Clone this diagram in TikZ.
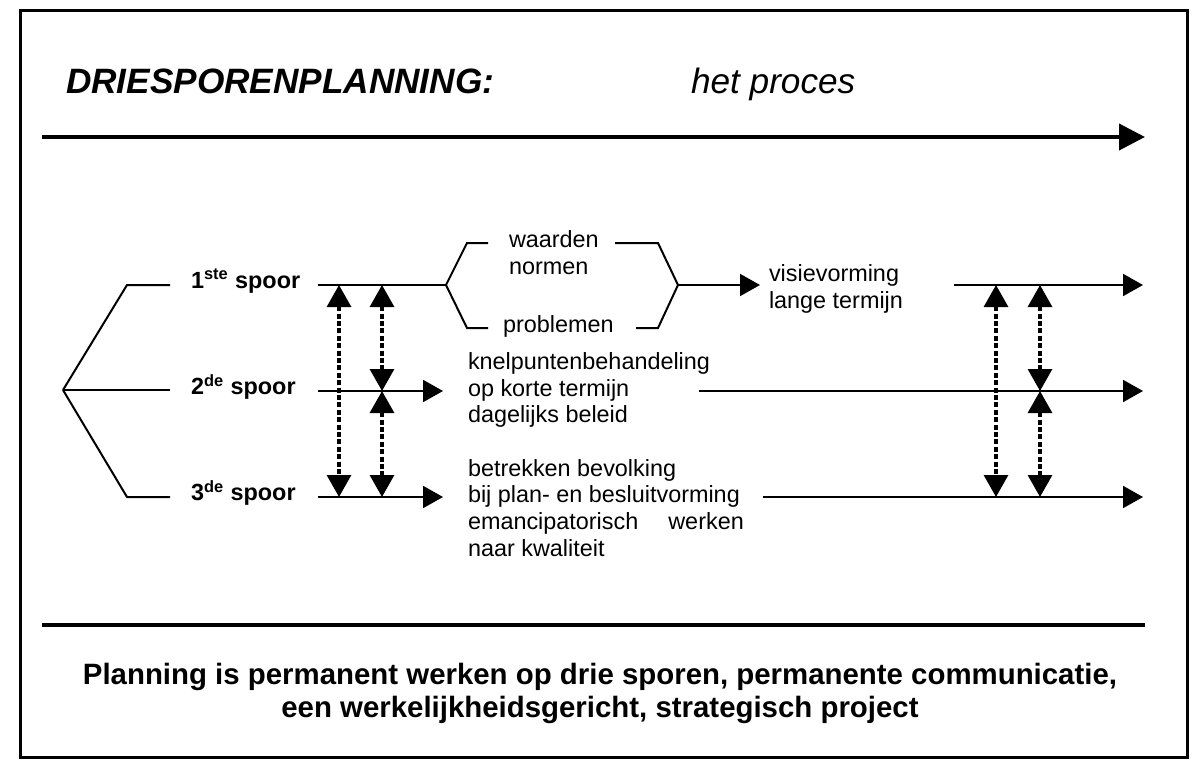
\documentclass[tikz,border=0pt]{standalone}
\usepackage{fontspec}
\setmainfont{Liberation Sans}
\usetikzlibrary{arrows.meta,positioning}

\begin{document}
\begin{tikzpicture}[x=0.5pt,y=-0.5pt,line width=1pt,
  flow/.style={-{Triangle[length=10pt,width=11pt]}},
  link/.style={{Triangle[length=11pt,width=12pt]}-{Triangle[length=11pt,width=12pt]},
    line width=1.6pt,dash pattern=on 2.5pt off 1.2pt},
  spoor node/.style={font=\bfseries\fontsize{11.7}{14}\selectfont,inner sep=0pt,anchor=west},
  text node/.style={font=\fontsize{11.7}{13.4}\selectfont,inner sep=0pt,anchor=west,align=left}]

  \useasboundingbox (0,0) rectangle (1201,760);
  \draw[line width=1.5pt] (20,10) rectangle (1187,757);

  % heading and process arrow
  \node[font=\bfseries\itshape\fontsize{17.6}{20}\selectfont,inner sep=0pt,anchor=base west] (title) at (65,93) {DRIESPORENPLANNING:};
  \node[font=\itshape\fontsize{17.6}{20}\selectfont,inner sep=0pt,anchor=base west] (proces) at (690,93) {het proces};
  \coordinate (p0) at (42,137);
  \coordinate (p1) at (1145,137);
  \draw[line width=2pt,-{Triangle[length=13pt,width=13pt]}] (p0) -- (p1);

  % the three tracks
  \coordinate (root) at (63,390);
  \coordinate (k1) at (127,285);
  \coordinate (k3) at (127,497);
  \node[spoor node] (s1) at (190,281) {1\textsuperscript{ste} spoor};
  \node[spoor node] (s2) at (190,387) {2\textsuperscript{de} spoor};
  \node[spoor node] (s3) at (190,493) {3\textsuperscript{de} spoor};
  \draw[shorten >=10pt] (root) -- (k1) -- (k1 -| s1.west);
  \draw[shorten >=10pt] (root) -- (root -| s2.west);
  \draw[shorten >=10pt] (root) -- (k3) -- (k3 -| s3.west);

  \coordinate (a1) at (318,285);
  \coordinate (a2) at (318,391);
  \coordinate (a3) at (318,497);

  % track 1: values, norms, problems
  \coordinate (bl) at (446,285);
  \coordinate (br) at (678,285);
  \node[text node] (waarden) at (508,253) {waarden\\normen};
  \node[text node] (problemen) at (502,326) {problemen};
  \draw (a1) -- (bl);
  \draw (488,243) -- (467,243) -- (bl) -- (467,328) -- (488,328);
  \draw (615,243) -- (658,243) -- (br) -- (658,328) -- (636,328);
  \node[text node] (vis) at (768,289) {visievorming\\lange termijn};
  \draw[flow,shorten >=4pt] (br) -- (vis.west |- br);

  % track 2 and 3
  \node[text node] (knel) at (467,390) {knelpuntenbehandeling\\op korte termijn\\dagelijks beleid};
  \node[text node] (betr) at (467,508) {betrekken bevolking\\bij plan- en besluitvorming\\emancipatorisch\hspace{15pt}werken\\naar kwaliteit};
  \coordinate (t2) at (443,391);
  \coordinate (t3) at (443,497);
  \draw[flow] (a2) -- (t2);
  \draw[flow] (a3) -- (t3);

  \coordinate (e1) at (1143,285);
  \coordinate (e2) at (1143,391);
  \coordinate (e3) at (1143,497);
  \coordinate (b1) at (954,285);
  \coordinate (b2) at (699,391);
  \coordinate (b3) at (763,497);
  \draw[flow] (b1) -- (e1);
  \draw[flow] (b2) -- (e2);
  \draw[flow] (b3) -- (e3);

  % communication between the tracks
  \coordinate (d1) at (339,0);
  \coordinate (d2) at (382,0);
  \coordinate (d3) at (996,0);
  \coordinate (d4) at (1040,0);
  \draw[link] (d1 |- a1) -- (d1 |- a3);
  \draw[link] (d2 |- a1) -- (d2 |- a2);
  \draw[link] (d2 |- a2) -- (d2 |- a3);
  \draw[link] (d3 |- e1) -- (d3 |- e3);
  \draw[link] (d4 |- e1) -- (d4 |- e2);
  \draw[link] (d4 |- e2) -- (d4 |- e3);

  % conclusion
  \coordinate (r0) at (42,625);
  \coordinate (r1) at (1145,625);
  \draw[line width=2pt] (r0) -- (r1);
  \node[font=\bfseries\fontsize{14.7}{16.5}\selectfont,inner sep=0pt,align=center] (concl) at (600,693)
    {Planning is permanent werken op drie sporen, permanente communicatie,\\een werkelijkheidsgericht, strategisch project};
\end{tikzpicture}
\end{document}
